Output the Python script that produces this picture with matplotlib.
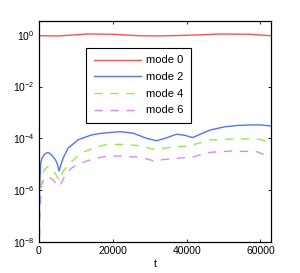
import matplotlib
matplotlib.use("Agg")
import matplotlib.pyplot as plt
import numpy as np

plt.rcParams['font.family'] = ['Liberation Sans', 'DejaVu Sans']
plt.rcParams['mathtext.fontset'] = 'custom'
plt.rcParams['mathtext.rm'] = 'Liberation Sans'
plt.rcParams['mathtext.it'] = 'Liberation Sans:italic'
plt.rcParams['lines.scale_dashes'] = False

labels = ["mode 0", "mode 2", "mode 4", "mode 6"]
colors = ["#ff5050", "#5572ff", "#8ef04c", "#d68cf8"]

t0 = [0, 5150, 9000, 13270, 20000, 26810, 31400, 35750, 42250, 49290, 57140, 62832]
log0 = [-0.035, -0.046, -0.01, 0.03, 0.02, -0.035, -0.045, -0.035, -0.01, 0.03, 0.02, -0.035]

t2 = [0, 135, 460, 810, 1350, 1900, 2440, 2980, 3650, 4470, 5000, 5420, 6500, 7850,
      9200, 10560, 12190, 14160, 16520, 18690, 21930, 25540, 29170, 31870, 34500,
      37290, 39500, 41620, 44000, 46310, 50370, 54000, 57140, 60000, 62832]
log2 = [-9, -6.0, -4.96, -4.76, -4.64, -4.57, -4.55, -4.58, -4.68, -4.83, -5.0, -5.26, -4.77, -4.38,
        -4.22, -4.06, -3.97, -3.87, -3.81, -3.78, -3.74, -3.80, -4.00, -4.09, -3.98,
        -3.84, -3.88, -3.97, -3.82, -3.68, -3.55, -3.50, -3.48, -3.48, -3.52]

t4 = [0, 200, 620, 1500, 2440, 3600, 4600, 5420, 6600, 8750, 10500, 12380, 15000, 17790, 21930,
      27350, 30950, 36370, 40890, 46310, 52620, 58960, 62832]
log4 = [-9, -6.5, -5.48, -5.2, -5.09, -5.2, -5.4, -5.61, -5.25, -4.90, -4.68, -4.51, -4.36, -4.25, -4.23,
        -4.28, -4.42, -4.34, -4.28, -4.06, -4.02, -4.02, -4.13]

t6 = [0, 200, 620, 1500, 2440, 3600, 4700, 5600, 6800, 8750, 10500, 12380, 15000, 17790, 21930,
      27350, 30950, 37290, 41780, 46310, 51720, 58960, 62832]
log6 = [-9, -6.8, -5.80, -5.55, -5.48, -5.58, -5.75, -5.86, -5.5, -5.15, -5.0, -4.90, -4.78, -4.70, -4.68,
        -4.73, -4.86, -4.77, -4.71, -4.54, -4.49, -4.51, -4.73]

xticks = [0, 20000, 40000, 60000]

fig = plt.figure(figsize=(3.0, 2.73), dpi=100)
ax = fig.add_axes([0.13, 0.1136, 0.773, 0.8106])

dash = (0, (6, 5.5))
series = [(t0, log0, '-'), (t2, log2, '-'), (t4, log4, dash), (t6, log6, dash)]
for (t, lg, ls), lab, c in zip(series, labels, colors):
    ax.plot(t, 10.0 ** np.array(lg), color=c, lw=1.0, linestyle=ls, label=lab)

ax.set_yscale('log')
ax.set_xlim(0, 62832)
ax.set_ylim(1e-8, 3.5)
ax.set_yticks([1e-8, 1e-6, 1e-4, 1e-2, 1e0])
ax.yaxis.set_minor_locator(matplotlib.ticker.NullLocator())
ax.set_xticks(xticks)
ax.set_xticklabels([str(v) for v in xticks])
ax.tick_params(direction='in', top=True, right=True, labelsize=7.5, length=2.5, width=0.6, pad=3)
for s in ax.spines.values():
    s.set_linewidth(0.9)
ax.set_xlabel('t', fontsize=7.5, labelpad=2)

leg = ax.legend(loc='upper left', bbox_to_anchor=(0.203, 0.878), fontsize=8, frameon=True,
                fancybox=False, framealpha=1, edgecolor='black', handlelength=4.2,
                handletextpad=0.45, borderpad=0.7, labelspacing=0.6, borderaxespad=0)
leg.get_frame().set_linewidth(0.8)

fig.savefig('out.png', dpi=100)
